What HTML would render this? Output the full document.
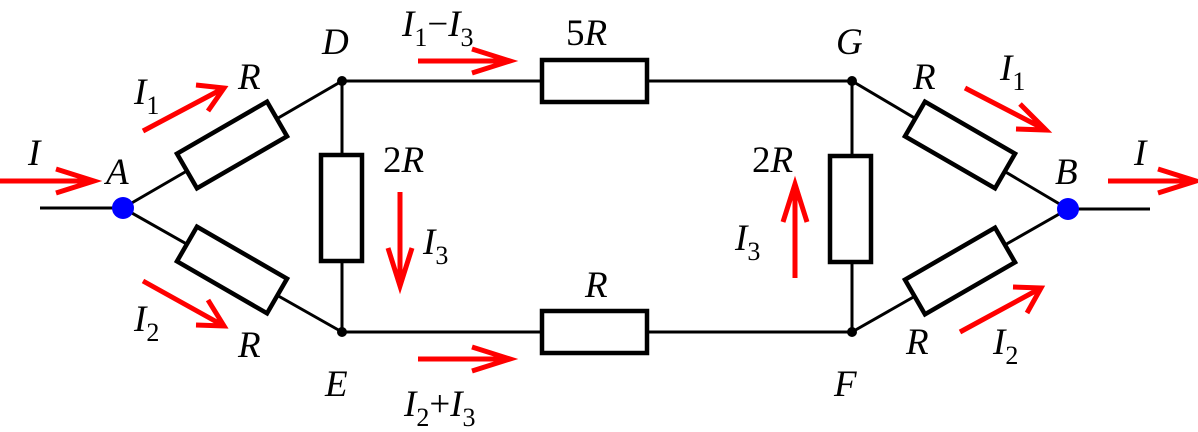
<!DOCTYPE html>
<html><head><style>body{margin:0;background:#fff}svg{display:block}svg text{font-family:"Liberation Serif","DejaVu Serif","Times New Roman",serif;font-size:37px;font-style:italic}svg .s{font-size:26px;font-style:normal}svg .n{font-style:normal}</style></head><body>
<svg width="1198" height="432" viewBox="0 0 1198 432">
<g stroke="#000" stroke-width="3" fill="none">
<line x1="40" y1="208" x2="123" y2="208"/><line x1="1068" y1="209" x2="1150" y2="209"/>
<line x1="123" y1="208" x2="342" y2="81"/><line x1="123" y1="208" x2="342" y2="332"/>
<line x1="852" y1="81" x2="1068" y2="209"/><line x1="852" y1="332" x2="1068" y2="209"/>
<line x1="342" y1="81" x2="852" y2="81"/><line x1="342" y1="332" x2="852" y2="332"/>
<line x1="342" y1="81" x2="342" y2="332"/><line x1="852" y1="81" x2="852" y2="332"/>
</g>
<g stroke="#000" stroke-width="4.5" fill="#fff">
<rect x="-52" y="-20" width="104" height="40" transform="translate(232,145) rotate(-30)"/>
<rect x="-52" y="-20" width="104" height="40" transform="translate(232,270) rotate(30)"/>
<rect x="-52" y="-20" width="104" height="40" transform="translate(960,145) rotate(30)"/>
<rect x="-52" y="-20" width="104" height="40" transform="translate(960,271) rotate(-30)"/>
<rect x="542" y="60" width="105" height="42"/>
<rect x="542" y="311" width="105" height="42"/>
<rect x="321" y="155" width="41" height="106"/>
<rect x="830" y="156" width="41" height="106"/>
</g>
<g fill="#000"><circle cx="342" cy="81" r="5"/><circle cx="342" cy="332" r="5"/><circle cx="852" cy="81" r="5"/><circle cx="852" cy="332" r="5"/></g>
<g fill="#00f"><circle cx="123" cy="208" r="11"/><circle cx="1068" cy="209" r="11"/></g>
<g stroke="#f00" stroke-width="5" fill="none">
<path d="M0 181H92M56 169L94 181L56 193"/>
<path d="M1108 181H1194M1158 169L1196 181L1158 193"/>
<path d="M143 131L224 88M196 85L224 88L208 111"/>
<path d="M143 281L224 326M208 300L224 326L196 325"/>
<path d="M418 61H510M472 49L510 61L472 73"/>
<path d="M418 359H510M472 347L510 359L472 371"/>
<path d="M400 192V285M388 248L400 286L412 248"/>
<path d="M795 278V185M783 222L795 184L807 222"/>
<path d="M965 88L1046 130M1020 104L1046 130L1016 129"/>
<path d="M960 332L1041 288M1013 287L1041 288L1027 313"/>
</g>
<g fill="#000" font-family="Liberation Serif, DejaVu Serif, serif">
<text x="28" y="165">I</text>
<text x="106" y="184">A</text>
<text x="134" y="104">I<tspan class="s" dy="10">1</tspan></text>
<text x="238" y="89">R</text>
<text x="322" y="54">D</text>
<text x="134" y="331">I<tspan class="s" dy="10">2</tspan></text>
<text x="238" y="357">R</text>
<text x="325" y="396">E</text>
<text x="383" y="172"><tspan class="n">2</tspan>R</text>
<text x="423" y="254">I<tspan class="s" dy="10">3</tspan></text>
<text x="402" y="36">I<tspan class="s" dy="10">1</tspan><tspan class="n" dy="-10">−</tspan>I<tspan class="s" dy="10">3</tspan></text>
<text x="566" y="45"><tspan class="n">5</tspan>R</text>
<text x="585" y="297">R</text>
<text x="404" y="416">I<tspan class="s" dy="10">2</tspan><tspan class="n" dy="-10">+</tspan>I<tspan class="s" dy="10">3</tspan></text>
<text x="836" y="54">G</text>
<text x="834" y="396">F</text>
<text x="752" y="172"><tspan class="n">2</tspan>R</text>
<text x="735" y="250">I<tspan class="s" dy="10">3</tspan></text>
<text x="913" y="89">R</text>
<text x="1000" y="80">I<tspan class="s" dy="10">1</tspan></text>
<text x="1055" y="184">B</text>
<text x="1134" y="165">I</text>
<text x="906" y="354">R</text>
<text x="993" y="354">I<tspan class="s" dy="10">2</tspan></text>
</g>
</svg>
</body></html>
